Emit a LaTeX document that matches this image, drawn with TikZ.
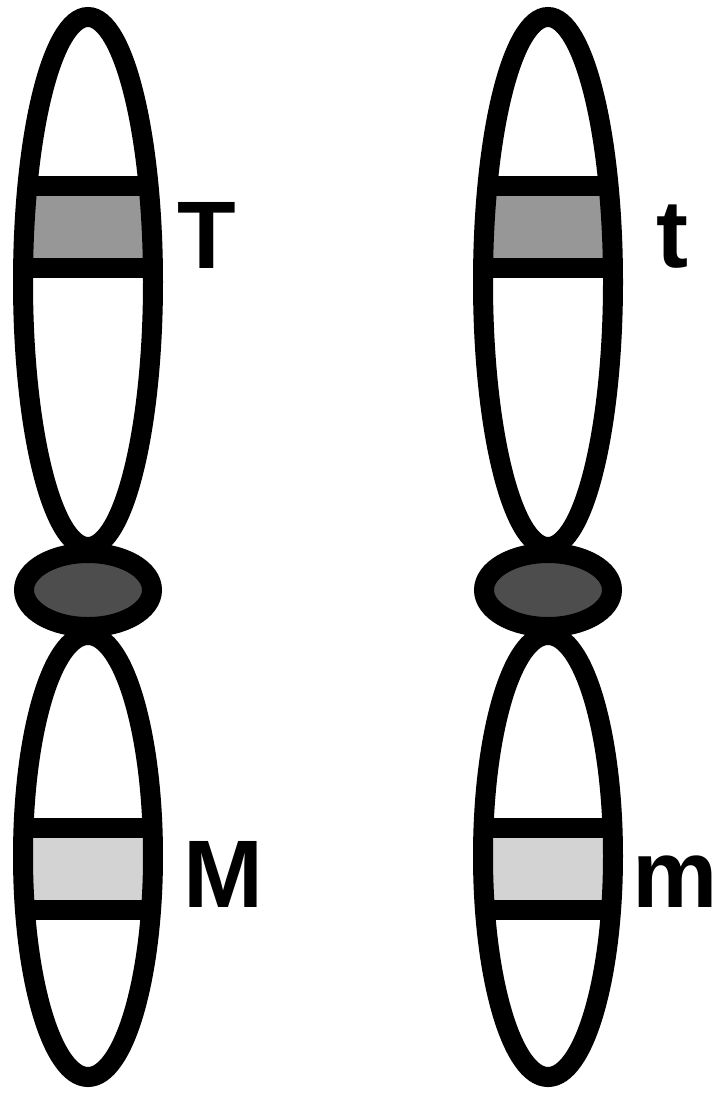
\documentclass[tikz,border=0pt]{standalone}
\usepackage{fontspec}
\setmainfont{Liberation Sans}
\definecolor{bandgray}{HTML}{979797}
\definecolor{lightband}{HTML}{D3D3D3}
\definecolor{cengray}{HTML}{4D4D4D}

\begin{document}
\begin{tikzpicture}[x=1pt,y=-1pt]
	 \tikzstyle{arm}=[draw=black,line width=20pt]
	 \tikzstyle{centromere}=[draw=black,fill=cengray,line width=20pt]
	 \tikzstyle{band line}=[draw,black,line width=20pt]
	 \tikzstyle{allele}=[inner sep=0pt,anchor=base,font=\fontsize{96}{96}\selectfont\bfseries]

	\useasboundingbox (0,0) rectangle (718,1093);

	% left chromosome, upper arm
	\begin{scope}
		\clip (88,282) ellipse [x radius=65pt,y radius=265pt];
		\fill[bandgray] (18,186) rectangle (158,268);
		\draw[band line] (18,186) -- (158,186);
		\draw[band line] (18,268) -- (158,268);
	\end{scope}
	\draw[arm] (88,282) ellipse [x radius=65pt,y radius=265pt];

	% left chromosome, lower arm
	\begin{scope}
		\clip (88,856) ellipse [x radius=65pt,y radius=221pt];
		\fill[lightband] (18,828) rectangle (158,910);
		\draw[band line] (18,828) -- (158,828);
		\draw[band line] (18,910) -- (158,910);
	\end{scope}
	\draw[arm] (88,856) ellipse [x radius=65pt,y radius=221pt];

	\draw[centromere] (88,590) ellipse [x radius=64pt,y radius=37pt];

	% right chromosome, upper arm
	\begin{scope}
		\clip (548,282) ellipse [x radius=65pt,y radius=265pt];
		\fill[bandgray] (478,186) rectangle (618,268);
		\draw[band line] (478,186) -- (618,186);
		\draw[band line] (478,268) -- (618,268);
	\end{scope}
	\draw[arm] (548,282) ellipse [x radius=65pt,y radius=265pt];

	% right chromosome, lower arm
	\begin{scope}
		\clip (548,856) ellipse [x radius=65pt,y radius=221pt];
		\fill[lightband] (478,828) rectangle (618,910);
		\draw[band line] (478,828) -- (618,828);
		\draw[band line] (478,910) -- (618,910);
	\end{scope}
	\draw[arm] (548,856) ellipse [x radius=65pt,y radius=221pt];

	\draw[centromere] (548,590) ellipse [x radius=64pt,y radius=37pt];

	\node[allele] (T) at (207,268) {T};
	\node[allele] (t) at (672,267) {t};
	\node[allele] (M) at (223,907) {M};
	\node[allele] (m) at (675,907) {m};
\end{tikzpicture}
\end{document}
